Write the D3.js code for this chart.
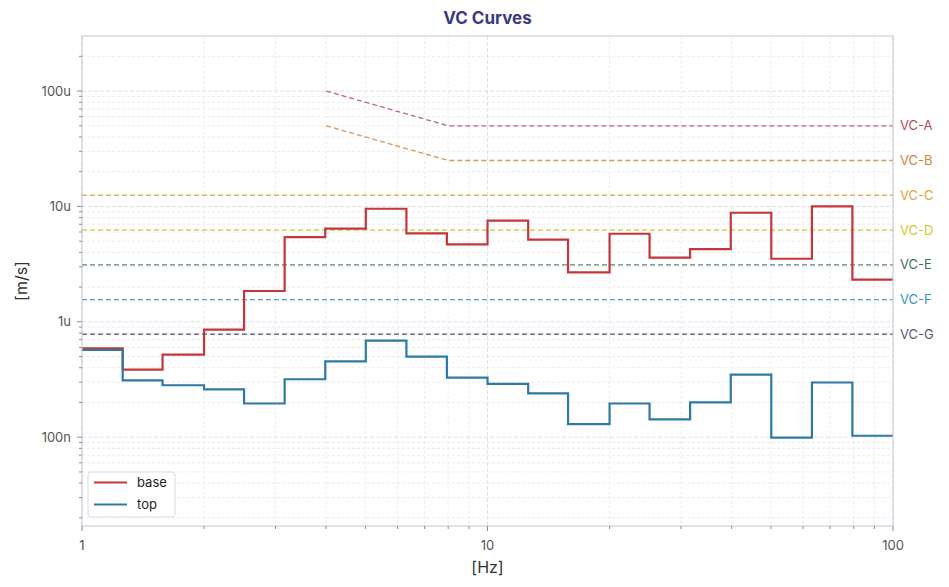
<!DOCTYPE html>
<html>
<head>
<meta charset="utf-8">
<script src="https://cdn.jsdelivr.net/npm/d3@7"></script>
<style>
  body { margin: 0; background: #fff; }
  svg { font-family: Inter, "Noto Sans", sans-serif; }
</style>
</head>
<body>
<script>
// one-third octave band edges [Hz]
const bands = [1, 1.26, 1.58, 2, 2.51, 3.16, 3.98, 5.01, 6.31, 7.94, 10,
  12.6, 15.8, 20, 25.1, 31.6, 39.8, 50.1, 63.1, 79.4, 100];

// band values [um/s]
const baseVals = [0.59, 0.385, 0.52, 0.855, 1.85, 5.42, 6.41, 9.55, 5.84, 4.69,
  7.52, 5.15, 2.68, 5.8, 3.6, 4.27, 8.82, 3.52, 10.0, 2.32];
const topVals = [0.57, 0.311, 0.282, 0.26, 0.196, 0.318, 0.455, 0.687, 0.50, 0.329,
  0.29, 0.24, 0.13, 0.196, 0.143, 0.2, 0.349, 0.0993, 0.298, 0.103];

// VC criteria [um/s]
const vcNames = ["VC-A", "VC-B", "VC-C", "VC-D", "VC-E", "VC-F", "VC-G"];
const vcLevels = [50, 25, 12.5, 6.25, 3.12, 1.56, 0.78];
const vcColors = ["#b94a5a", "#d3833d", "#e3a13a", "#d2c62c", "#3f6d5e", "#3a92c2", "#585877"];

const yTickVals = [1e-7, 1e-6, 1e-5, 1e-4];
const yTickLabels = ["100n", "1u", "10u", "100u"];
const xTickVals = [1, 10, 100];
const xTickLabels = ["1", "10", "100"];

const width = 949, height = 587;
const margin = { top: 36, right: 56, bottom: 61, left: 82 };

const svg = d3.select("body").append("svg")
  .attr("width", width)
  .attr("height", height);

const x = d3.scaleLog().domain([1, 100]).range([margin.left, width - margin.right]);
const y = d3.scaleLog().domain([1.7e-8, 3e-4]).range([height - margin.bottom, margin.top]);

// minor positions
let xMinor = [], yMinor = [];
[1, 10].forEach(d => { for (let k = 2; k <= 9; k++) xMinor.push(d * k); });
[1e-8, 1e-7, 1e-6, 1e-5, 1e-4].forEach(d => {
  for (let k = 2; k <= 9; k++) if (d * k >= y.domain()[0] && d * k <= y.domain()[1]) yMinor.push(d * k);
});

// grid
const grid = svg.append("g");
grid.selectAll(".gx-minor").data(xMinor).enter().append("line")
  .attr("x1", d => x(d)).attr("x2", d => x(d))
  .attr("y1", margin.top).attr("y2", height - margin.bottom)
  .attr("stroke", "#ececf0").attr("stroke-dasharray", "3,2");
grid.selectAll(".gy-minor").data(yMinor).enter().append("line")
  .attr("y1", d => y(d)).attr("y2", d => y(d))
  .attr("x1", margin.left).attr("x2", width - margin.right)
  .attr("stroke", "#ececf0").attr("stroke-dasharray", "3,2");
grid.selectAll(".gx").data(xTickVals).enter().append("line")
  .attr("x1", d => x(d)).attr("x2", d => x(d))
  .attr("y1", margin.top).attr("y2", height - margin.bottom)
  .attr("stroke", "#e0e0e8").attr("stroke-dasharray", "4,2");
grid.selectAll(".gy").data(yTickVals).enter().append("line")
  .attr("y1", d => y(d)).attr("y2", d => y(d))
  .attr("x1", margin.left).attr("x2", width - margin.right)
  .attr("stroke", "#e0e0e8").attr("stroke-dasharray", "4,2");

// VC curves
const vcLine = d3.line().x(d => x(d[0])).y(d => y(d[1] * 1e-6));
vcNames.forEach((name, i) => {
  let pts;
  if (i < 2) pts = [[4, vcLevels[i] * 2], [8, vcLevels[i]], [100, vcLevels[i]]];
  else pts = [[1, vcLevels[i]], [100, vcLevels[i]]];
  svg.append("path")
    .attr("d", vcLine(pts))
    .attr("fill", "none")
    .attr("stroke", vcColors[i])
    .attr("stroke-opacity", 0.85)
    .attr("stroke-width", 1.3)
    .attr("stroke-dasharray", "5,3");
  svg.append("text")
    .attr("x", width - margin.right + 7)
    .attr("y", y(vcLevels[i] * 1e-6))
    .attr("dy", "0.35em")
    .attr("font-size", 13)
    .attr("fill", vcColors[i])
    .text(name);
});

// step series
const stepLine = d3.line().curve(d3.curveStepAfter)
  .x(d => x(d[0])).y(d => y(d[1] * 1e-6));
const stepPts = vals => vals.map((v, i) => [bands[i], v]).concat([[bands[bands.length - 1], vals[vals.length - 1]]]);

const series = [
  { name: "base", vals: baseVals, color: "#c3363b" },
  { name: "top", vals: topVals, color: "#2c7aa5" }
];
series.forEach(s => {
  svg.append("path")
    .attr("d", stepLine(stepPts(s.vals)))
    .attr("fill", "none")
    .attr("stroke", s.color)
    .attr("stroke-width", 2.2);
});

// frame
svg.append("rect")
  .attr("x", margin.left).attr("y", margin.top)
  .attr("width", width - margin.left - margin.right)
  .attr("height", height - margin.top - margin.bottom)
  .attr("fill", "none").attr("stroke", "#c6c8d6").attr("stroke-width", 1);

// ticks
const axisColor = "#8a8c99";
const tx = svg.append("g");
tx.selectAll(".tx").data(xTickVals).enter().append("line")
  .attr("x1", d => x(d)).attr("x2", d => x(d))
  .attr("y1", height - margin.bottom).attr("y2", height - margin.bottom + 5)
  .attr("stroke", axisColor);
tx.selectAll(".txm").data(xMinor).enter().append("line")
  .attr("x1", d => x(d)).attr("x2", d => x(d))
  .attr("y1", height - margin.bottom).attr("y2", height - margin.bottom + 3)
  .attr("stroke", axisColor);
tx.selectAll("text").data(xTickVals).enter().append("text")
  .attr("x", d => x(d)).attr("y", height - margin.bottom + 24)
  .attr("text-anchor", "middle").attr("font-size", 13).attr("fill", "#555")
  .text((d, i) => xTickLabels[i]);

const ty = svg.append("g");
ty.selectAll(".ty").data(yTickVals).enter().append("line")
  .attr("y1", d => y(d)).attr("y2", d => y(d))
  .attr("x1", margin.left).attr("x2", margin.left - 5)
  .attr("stroke", axisColor);
ty.selectAll(".tym").data(yMinor).enter().append("line")
  .attr("y1", d => y(d)).attr("y2", d => y(d))
  .attr("x1", margin.left).attr("x2", margin.left - 3)
  .attr("stroke", axisColor);
ty.selectAll("text").data(yTickVals).enter().append("text")
  .attr("x", margin.left - 11).attr("y", d => y(d)).attr("dy", "0.35em")
  .attr("text-anchor", "end").attr("font-size", 13).attr("fill", "#555")
  .text((d, i) => yTickLabels[i]);

// axis labels
svg.append("text")
  .attr("x", (margin.left + width - margin.right) / 2)
  .attr("y", height - 14)
  .attr("text-anchor", "middle").attr("font-size", 16).attr("fill", "#333")
  .text("[Hz]");
svg.append("text")
  .attr("transform", `translate(27, ${(margin.top + height - margin.bottom) / 2}) rotate(-90)`)
  .attr("text-anchor", "middle").attr("font-size", 16).attr("fill", "#333")
  .text("[m/s]");

// title
svg.append("text")
  .attr("x", (margin.left + width - margin.right) / 2)
  .attr("y", 24)
  .attr("text-anchor", "middle").attr("font-size", 17).attr("font-weight", "bold")
  .attr("fill", "#3b3b7c")
  .text("VC Curves");

// legend
const legend = svg.append("g").attr("transform", "translate(88, 472)");
legend.append("rect")
  .attr("width", 87).attr("height", 45).attr("rx", 3)
  .attr("fill", "#fff").attr("fill-opacity", 0.9)
  .attr("stroke", "#dcdce2");
series.forEach((s, i) => {
  legend.append("line")
    .attr("x1", 6).attr("x2", 39)
    .attr("y1", 10.5 + i * 22).attr("y2", 10.5 + i * 22)
    .attr("stroke", s.color).attr("stroke-width", 2.2);
  legend.append("text")
    .attr("x", 49).attr("y", 10.5 + i * 22).attr("dy", "0.35em")
    .attr("font-size", 13).attr("fill", "#222")
    .text(s.name);
});
</script>
</body>
</html>
